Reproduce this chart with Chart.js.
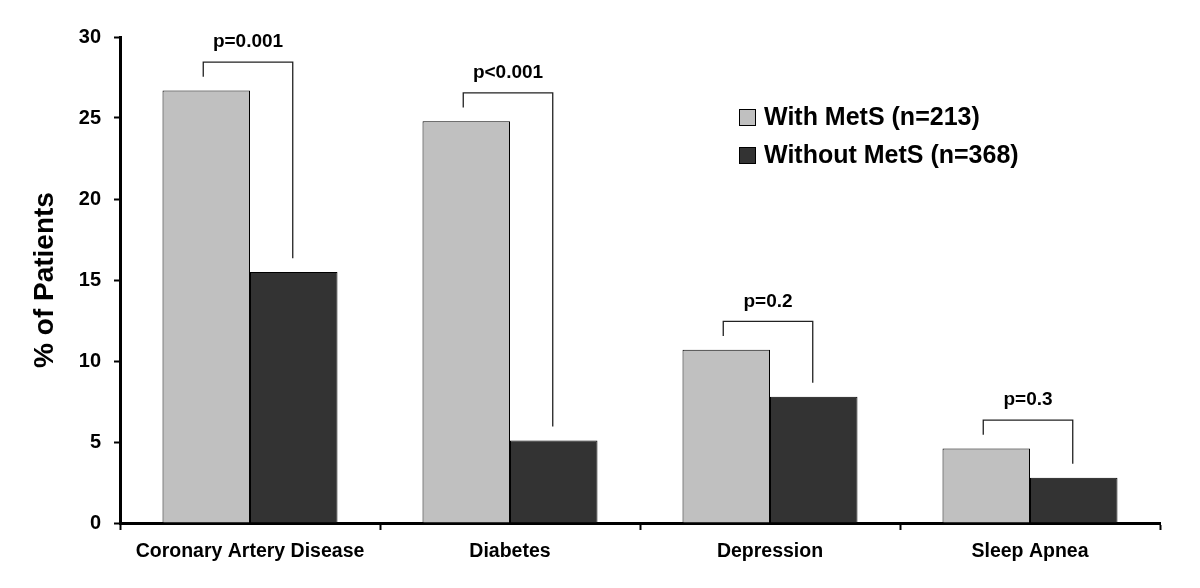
<!DOCTYPE html>
<html>
<head>
<meta charset="utf-8">
<script src="https://cdn.jsdelivr.net/npm/chart.js@4/dist/chart.umd.min.js"></script>
<style>
  html, body { margin: 0; padding: 0; background: #fff; }
  #wrap { width: 1200px; height: 588px; }
</style>
</head>
<body>
<div id="wrap"><canvas id="chart"></canvas></div>
<script>
const categories = ['Coronary Artery Disease', 'Diabetes', 'Depression', 'Sleep Apnea'];
const withMetS = [26.7, 24.8, 10.7, 4.6];
const withoutMetS = [15.5, 5.1, 7.8, 2.8];
const pValues = ['p=0.001', 'p<0.001', 'p=0.2', 'p=0.3'];
const yTicks = [0, 5, 10, 15, 20, 25, 30];

const FONT = '"Liberation Sans", Arial, sans-serif';

// brackets with p-values above each pair of bars
const bracketPlugin = {
    id: 'brackets',
    afterDatasetsDraw(chart) {
        const ctx = chart.ctx;
        const y = chart.scales.y;
        const m0 = chart.getDatasetMeta(0).data;
        const m1 = chart.getDatasetMeta(1).data;
        ctx.save();
        ctx.strokeStyle = '#222';
        ctx.lineWidth = 1.3;
        pValues.forEach((p, i) => {
            const x0 = m0[i].x - 3;
            const x1 = m1[i].x - 1;
            const top = y.getPixelForValue(Math.max(withMetS[i], withoutMetS[i]) + 1.75);
            const l = y.getPixelForValue(withMetS[i] + 0.85);
            const r = y.getPixelForValue(withoutMetS[i] + 0.85);
            ctx.beginPath();
            ctx.moveTo(x0, l);
            ctx.lineTo(x0, top);
            ctx.lineTo(x1, top);
            ctx.lineTo(x1, r);
            ctx.stroke();
            ctx.fillStyle = '#000';
            ctx.font = 'bold 19px ' + FONT;
            ctx.textAlign = 'center';
            ctx.textBaseline = 'middle';
            ctx.fillText(p, (x0 + x1) / 2, top - 20);
        });
        ctx.restore();
    }
};

// legend drawn inside the plot area
const legendPlugin = {
    id: 'innerLegend',
    afterDraw(chart) {
        const ctx = chart.ctx;
        ctx.save();
        chart.data.datasets.forEach((ds, i) => {
            const cy = 117 + i * 38;
            ctx.fillStyle = ds.backgroundColor;
            ctx.strokeStyle = '#000';
            ctx.lineWidth = 1;
            ctx.fillRect(739, cy - 8, 17, 17);
            ctx.strokeRect(739.5, cy - 7.5, 16, 16);
            ctx.fillStyle = '#000';
            ctx.font = 'bold 25px ' + FONT;
            ctx.textAlign = 'left';
            ctx.textBaseline = 'middle';
            ctx.fillText(ds.label, 764, cy + 1);
        });
        ctx.restore();
    }
};

new Chart(document.getElementById('chart'), {
    type: 'bar',
    data: {
        labels: categories,
        datasets: [
            {
                label: 'With MetS (n=213)',
                data: withMetS,
                backgroundColor: '#c0c0c0',
                borderColor: '#000',
                borderWidth: 1,
                borderSkipped: 'bottom'
            },
            {
                label: 'Without MetS (n=368)',
                data: withoutMetS,
                backgroundColor: '#333333',
                borderColor: '#000',
                borderWidth: 1,
                borderSkipped: 'bottom'
            }
        ]
    },
    options: {
        responsive: true,
        maintainAspectRatio: false,
        animation: false,
        layout: { padding: { top: 37, right: 40, left: 0, bottom: 0 } },
        datasets: { bar: { barPercentage: 1, categoryPercentage: 0.673 } },
        plugins: {
            legend: { display: false },
            tooltip: { enabled: false }
        },
        scales: {
            x: {
                afterFit(s) { s.height = 65; },
                grid: { drawOnChartArea: false, tickLength: 7, tickWidth: 2, color: '#000' },
                border: { color: '#000', width: 3 },
                ticks: {
                    color: '#000',
                    padding: 10,
                    font: { family: FONT, size: 19.5, weight: 'bold' }
                }
            },
            y: {
                min: 0,
                max: 30,
                afterFit(s) { s.width = 120; },
                afterBuildTicks(s) { s.ticks = yTicks.map(v => ({ value: v })); },
                grid: { drawOnChartArea: false, tickLength: 6, tickWidth: 2, color: '#000' },
                border: { color: '#000', width: 3 },
                ticks: {
                    color: '#000',
                    padding: 13,
                    font: { family: FONT, size: 20, weight: 'bold' }
                },
                title: {
                    display: true,
                    text: '% of Patients',
                    color: '#000',
                    padding: { top: 28, bottom: 0 },
                    font: { family: FONT, size: 28, weight: 'bold' }
                }
            }
        }
    },
    plugins: [bracketPlugin, legendPlugin]
});
</script>
</body>
</html>
